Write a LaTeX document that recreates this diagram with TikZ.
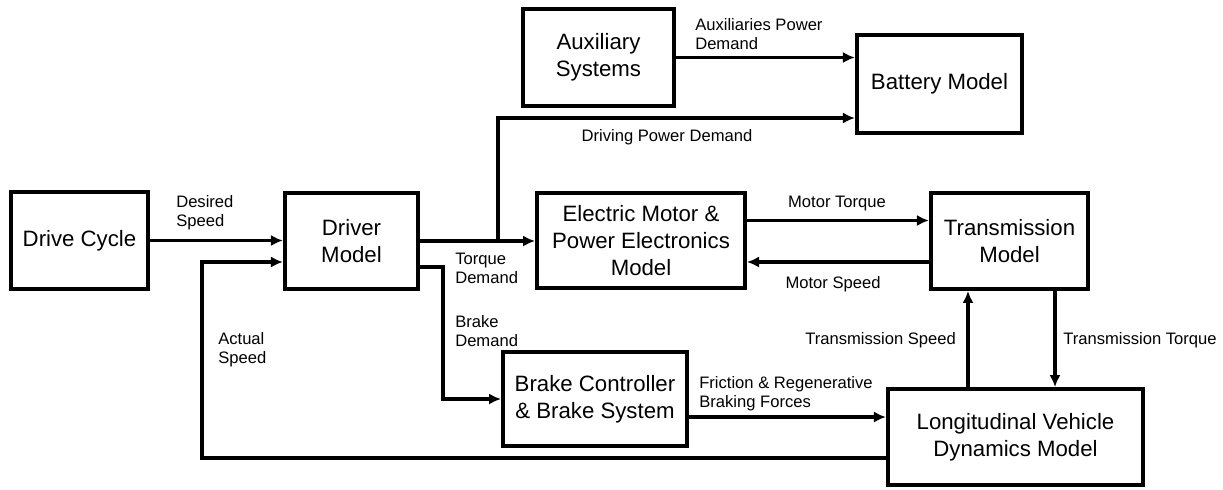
\documentclass[tikz,border=0pt]{standalone}
\usepackage{fontspec}
\setmainfont{Liberation Sans}
\usetikzlibrary{arrows.meta, positioning, calc}
\tikzset{
  block/.style={rectangle, draw=black, fill=white, align=center,
    inner sep=0pt, line width=2.8pt, font=\fontsize{15.8}{19.2}\selectfont},
  arrow/.style={-{Latex[length=0.3cm, width=0.28cm]}, line width=2.3pt, color=black},
  lbl/.style={font=\fontsize{11.8}{13.6}\selectfont, align=left, inner sep=0pt}
}

\begin{document}
\begin{tikzpicture}[x=0.025cm, y=-0.025cm]
  \useasboundingbox (0,0) rectangle (1223,489);

  % --- BLOCKS ---
  \node[block, minimum width=3.43cm, minimum height=2.43cm] (cycle) at (79.5,240.5) {Drive Cycle};
  \node[block, minimum width=3.33cm, minimum height=2.4cm] (driver) at (351.5,241) {Driver\\Model};
  \node[block, minimum width=3.78cm, minimum height=2.43cm] (aux) at (598.5,57.5) {Auxiliary\\Systems};
  \node[block, minimum width=4.13cm, minimum height=2.45cm] (battery) at (939.5,84) {Battery Model};
  \node[block, minimum width=5.2cm, minimum height=2.38cm] (motor) at (641,240.5) {Electric Motor \&\\Power Electronics\\Model};
  \node[block, minimum width=3.93cm, minimum height=2.4cm] (trans) at (1009.5,241) {Transmission\\Model};
  \node[block, minimum width=4.6cm, minimum height=2.35cm] (brake) at (595,399) {Brake Controller\\\& Brake System};
  \node[block, minimum width=6.38cm, minimum height=2.4cm] (lvd) at (1015.5,437) {Longitudinal Vehicle\\Dynamics Model};

  % --- CONNECTORS ---
  \draw[arrow] (cycle.east) -- (cycle.east -| driver.west);
  \coordinate (fbk) at (202,458);
  \draw[arrow] (lvd.west |- fbk) -- (fbk) |- ($(driver.west)+(0,21)$);

  \draw[arrow] (driver.east) -- (driver.east -| motor.west);
  \coordinate (split) at (498,241);
  \draw[arrow] (split) |- ($(battery.west)+(0,34)$);
  \draw[arrow] (aux.east) -- (aux.east -| battery.west);

  \coordinate (bturn) at (443,0);
  \draw[arrow] ($(driver.east)+(0,26)$) -| (bturn |- brake.west) -- (brake.west);

  \draw[arrow] ($(motor.east)+(0,-20)$) coordinate (mt) -- (mt -| trans.west);
  \draw[arrow] ($(trans.west)+(0,21)$) coordinate (ms) -- (ms -| motor.east);

  \draw[arrow] ($(lvd.north)+(-47.5,0)$) coordinate (tsp) -- (tsp |- trans.south);
  \draw[arrow] ($(trans.south)+(45.5,0)$) coordinate (ttq) -- (ttq |- lvd.north);

  \draw[arrow] ($(brake.east)+(0,18)$) coordinate (fr) -- (fr -| lvd.west);

  % --- LABELS ---
  \node[lbl, anchor=west] (l_des) at (176,213) {Desired\\Speed};
  \node[lbl, anchor=west] (l_act) at (218,350) {Actual\\Speed};
  \node[lbl, anchor=west] (l_tqd) at (455,268) {Torque\\Demand};
  \node[lbl, anchor=west] (l_brd) at (455,331) {Brake\\Demand};
  \node[lbl] (l_drv) at (667,137) {Driving Power Demand};
  \node[lbl, anchor=west] (l_aux) at (695,34) {Auxiliaries Power\\Demand};
  \node[lbl] (l_mt) at (837,204) {Motor Torque};
  \node[lbl] (l_ms) at (833,284) {Motor Speed};
  \node[lbl, anchor=west] (l_tsp) at (805,340) {Transmission Speed};
  \node[lbl, anchor=west] (l_ttq) at (1063,340) {Transmission Torque};
  \node[lbl, anchor=west] (l_fr) at (699,394) {Friction \& Regenerative\\Braking Forces};
\end{tikzpicture}
\end{document}
